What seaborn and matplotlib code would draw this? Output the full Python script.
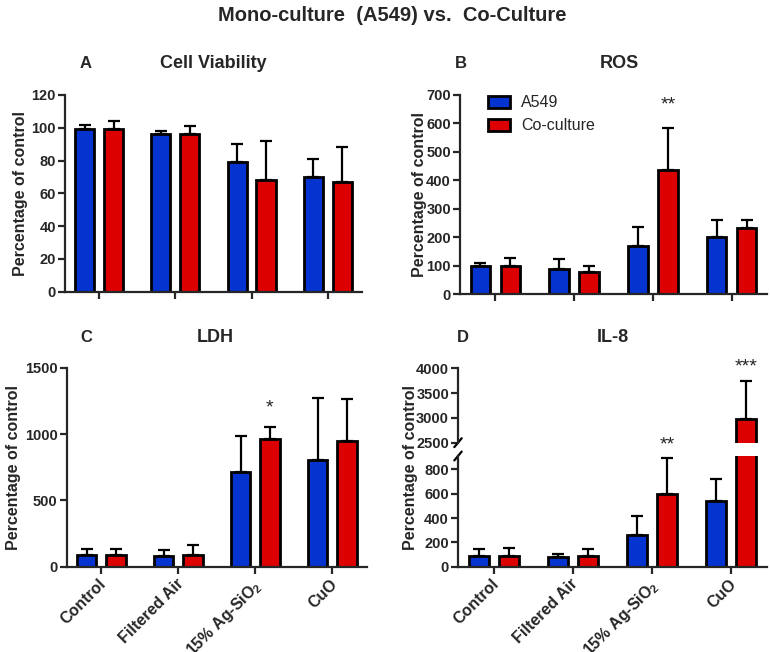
import matplotlib.pyplot as plt
import matplotlib.transforms as mtransforms
import pandas as pd
import seaborn as sns
from matplotlib.patches import Patch

sns.set_style("ticks")
plt.rcParams["font.family"] = ["Liberation Sans", "DejaVu Sans"]
plt.rcParams["font.weight"] = "bold"
plt.rcParams["axes.labelweight"] = "bold"
plt.rcParams["mathtext.fontset"] = "custom"
plt.rcParams["mathtext.rm"] = "Liberation Sans"
plt.rcParams["mathtext.default"] = "regular"

BLUE = "#0433d0"
RED = "#dc0000"

groups = ["Control", "Filtered Air", "15% Ag-SiO2", "CuO"]
tick_labels = ["Control", "Filtered Air", "15% Ag-SiO$_2$", "CuO"]
cells = ["A549", "Co-culture"]

# mean values and upper error (SD)
viab_a549 = [99, 96, 79, 70]
viab_a549_err = [3, 2, 11, 11]
viab_co = [99, 96, 68, 67]
viab_co_err = [5, 5, 24, 21]

ros_a549 = [97, 89, 170, 201]
ros_a549_err = [12, 35, 66, 58]
ros_co = [97, 76, 435, 231]
ros_co_err = [31, 24, 149, 30]

ldh_a549 = [88, 78, 713, 807]
ldh_a549_err = [48, 48, 273, 469]
ldh_co = [88, 86, 963, 948]
ldh_co_err = [43, 78, 88, 315]

il8_a549 = [87, 76, 260, 544]
il8_a549_err = [55, 25, 158, 180]
il8_co = [87, 87, 601, 2977]
il8_co_err = [63, 61, 295, 767]


def draw_bars(ax, a549, a549_err, co, co_err):
    df = pd.DataFrame({
        "Treatment": groups * 2,
        "Value": a549 + co,
        "Cells": [cells[0]] * 4 + [cells[1]] * 4,
    })
    sns.barplot(data=df, x="Treatment", y="Value", hue="Cells", order=groups,
                hue_order=cells, palette=[BLUE, RED], width=0.76, gap=0.34,
                errorbar=None, edgecolor="black", linewidth=2, saturation=1,
                legend=False, ax=ax)
    for cont, errs in zip(ax.containers, [a549_err, co_err]):
        xs = [p.get_x() + p.get_width() / 2 for p in cont]
        hs = [p.get_height() for p in cont]
        ax.errorbar(xs, hs, yerr=[[0] * len(errs), errs], fmt="none",
                    ecolor="black", elinewidth=1.6, capsize=4, capthick=1.6)
    ax.set_xlim(-0.45, 3.45)
    ax.set_xlabel("")
    ax.set_ylabel("")
    sns.despine(ax=ax)
    for sp in ax.spines.values():
        sp.set_linewidth(1.6)
    ax.tick_params(width=1.6, length=5, labelsize=10.5)
    ax.tick_params(axis="y", pad=1.5)


def style_x(ax, labels):
    ax.set_xticks(range(4))
    if labels:
        ax.set_xticklabels(tick_labels, rotation=45, ha="right",
                           rotation_mode="anchor", fontsize=11.5)
        off = mtransforms.ScaledTranslation(-2 / 72, 1.5 / 72,
                                            ax.figure.dpi_scale_trans)
        for lab in ax.get_xticklabels():
            lab.set_transform(lab.get_transform() + off)
    else:
        ax.set_xticklabels([])


def ylabel(ax, x, y=0.5):
    ax.set_ylabel("Percentage of control", fontsize=11.5)
    ax.yaxis.set_label_coords(x, y)


fig = plt.figure(figsize=(7.7, 6.52), dpi=100)
fig.text(0.51, 0.976, "Mono-culture  (A549) vs.  Co-Culture", ha="center",
         va="center", fontsize=14.5, fontweight="bold")

# A
axA = fig.add_axes([0.0844, 0.5526, 0.3857, 0.3017])
draw_bars(axA, viab_a549, viab_a549_err, viab_co, viab_co_err)
axA.set_ylim(0, 120)
axA.set_yticks(range(0, 121, 20))
style_x(axA, False)
ylabel(axA, -0.125)
axA.text(0.05, 1.16, "A", transform=axA.transAxes, fontsize=12, va="center")
axA.text(0.5, 1.16, "Cell Viability", transform=axA.transAxes, fontsize=13,
         ha="center", va="center")

# B
axB = fig.add_axes([0.5974, 0.549, 0.3987, 0.3053])
draw_bars(axB, ros_a549, ros_a549_err, ros_co, ros_co_err)
axB.set_ylim(0, 700)
axB.set_yticks(range(0, 701, 100))
style_x(axB, False)
ylabel(axB, -0.107)
axB.text(-0.016, 1.16, "B", transform=axB.transAxes, fontsize=12, va="center")
axB.text(0.52, 1.16, "ROS", transform=axB.transAxes, fontsize=13,
         ha="center", va="center")
axB.text(2.19, 665, "**", ha="center", va="center", fontsize=14,
         fontweight="normal")
handles = [Patch(facecolor=c, edgecolor="black", linewidth=2, label=l)
           for c, l in zip([BLUE, RED], cells)]
axB.legend(handles=handles, loc="upper left", bbox_to_anchor=(0.07, 1.03),
           frameon=False, prop={"size": 11.5, "weight": "normal"},
           handlelength=1.4, handleheight=0.8, labelspacing=0.5,
           handletextpad=0.7, borderaxespad=0)

# C
axC = fig.add_axes([0.0866, 0.1308, 0.3900, 0.3048])
draw_bars(axC, ldh_a549, ldh_a549_err, ldh_co, ldh_co_err)
axC.set_ylim(0, 1500)
axC.set_yticks(range(0, 1501, 500))
style_x(axC, True)
ylabel(axC, -0.152)
axC.text(0.044, 1.151, "C", transform=axC.transAxes, fontsize=12, va="center")
axC.text(0.495, 1.151, "LDH", transform=axC.transAxes, fontsize=13,
         ha="center", va="center")
axC.text(2.19, 1200, "*", ha="center", va="center", fontsize=14,
         fontweight="normal")

# D (broken y axis)
axD = fig.add_axes([0.5948, 0.1308, 0.4013, 0.1698])
axDu = fig.add_axes([0.5948, 0.321, 0.4013, 0.1141])
axDu.patch.set_visible(False)
draw_bars(axD, il8_a549, il8_a549_err, il8_co, il8_co_err)
draw_bars(axDu, il8_a549, il8_a549_err, il8_co, il8_co_err)
axD.set_ylim(0, 910)
axD.set_yticks(range(0, 801, 200))
axDu.set_ylim(2500, 4000)
axDu.set_yticks(range(2500, 4001, 500))
for p in axDu.patches:
    if p.get_height() < 2500:
        p.set_visible(False)
axDu.spines["bottom"].set_visible(False)
axDu.tick_params(axis="x", bottom=False, labelbottom=False)
style_x(axD, True)
axDu.set_xticks(range(4))
axDu.set_xticklabels([])
ylabel(axD, -0.129, 0.90)
ratio = 0.1141 / 0.1698
axD.plot([-0.012, 0.012], [1 - 0.06 * ratio, 1 + 0.06 * ratio],
         transform=axD.transAxes, color="black", lw=1.6, clip_on=False)
axDu.plot([-0.012, 0.012], [-0.06, 0.06],
          transform=axDu.transAxes, color="black", lw=1.6, clip_on=False)
axDu.text(-0.003, 1.41, "D", transform=axDu.transAxes, fontsize=12, va="center")
axDu.text(0.5, 1.41, "IL-8", transform=axDu.transAxes, fontsize=13,
          ha="center", va="center")
axD.text(2.19, 1000, "**", ha="center", va="center", fontsize=14,
         fontweight="normal", clip_on=False, zorder=10)
axDu.text(3.19, 4030, "***", ha="center", va="center", fontsize=14,
          fontweight="normal", clip_on=False)

fig.savefig("out.png", dpi=100)
